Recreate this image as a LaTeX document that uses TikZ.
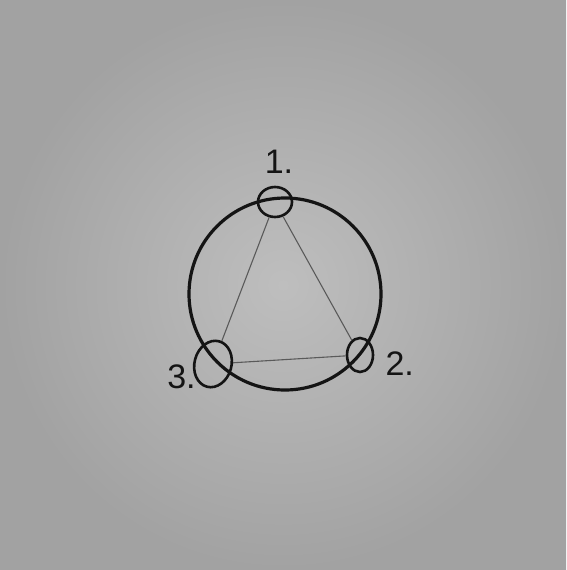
\documentclass[tikz,border=0pt]{standalone}
\usepackage{fontspec}
\setmainfont{Liberation Sans}
\usetikzlibrary{shapes.geometric,positioning}
\definecolor{paper}{HTML}{BEBEBE}
\definecolor{paperedge}{HTML}{A2A2A2}
\definecolor{ink}{HTML}{141414}
\tikzset{
  ringline/.style={draw=ink,line width=3.2pt,circle,minimum size=192pt,inner sep=0pt},
  vertexmark/.style={draw=ink,line width=2.6pt,ellipse,inner sep=0pt},
  edgeline/.style={draw=ink!70,line width=1.1pt},
  marklabel/.style={text=ink,font=\fontsize{34}{34}\selectfont,inner sep=0pt}
}
\begin{document}
\begin{tikzpicture}[x=1pt,y=-1pt]
  \useasboundingbox (0,0) rectangle (566,570);
  \shade[inner color=paper,outer color=paperedge] (0,0) rectangle (566,570);
  % circle and the three marked points
  \node[ringline] (ring) at (285,294) {};
  \node[vertexmark,minimum width=34pt,minimum height=30pt] (v1) at (275,202) {};
  \node[vertexmark,minimum width=26pt,minimum height=34pt] (v2) at (360,355) {};
  \node[vertexmark,minimum width=37pt,minimum height=47pt,rotate=-15] (v3) at (213,364) {};
  \node[marklabel,above=12pt of v1,xshift=4pt] (l1) {1.};
  \node[marklabel,right=11pt of v2,yshift=-9pt] (l2) {2.};
  \node[marklabel,left=-2pt of v3,yshift=-18pt] (l3) {3.};
  % triangle
  \draw[edgeline] (v1) -- (v2);
  \draw[edgeline] (v2) -- (v3);
  \draw[edgeline] (v3) -- (v1);
\end{tikzpicture}
\end{document}
